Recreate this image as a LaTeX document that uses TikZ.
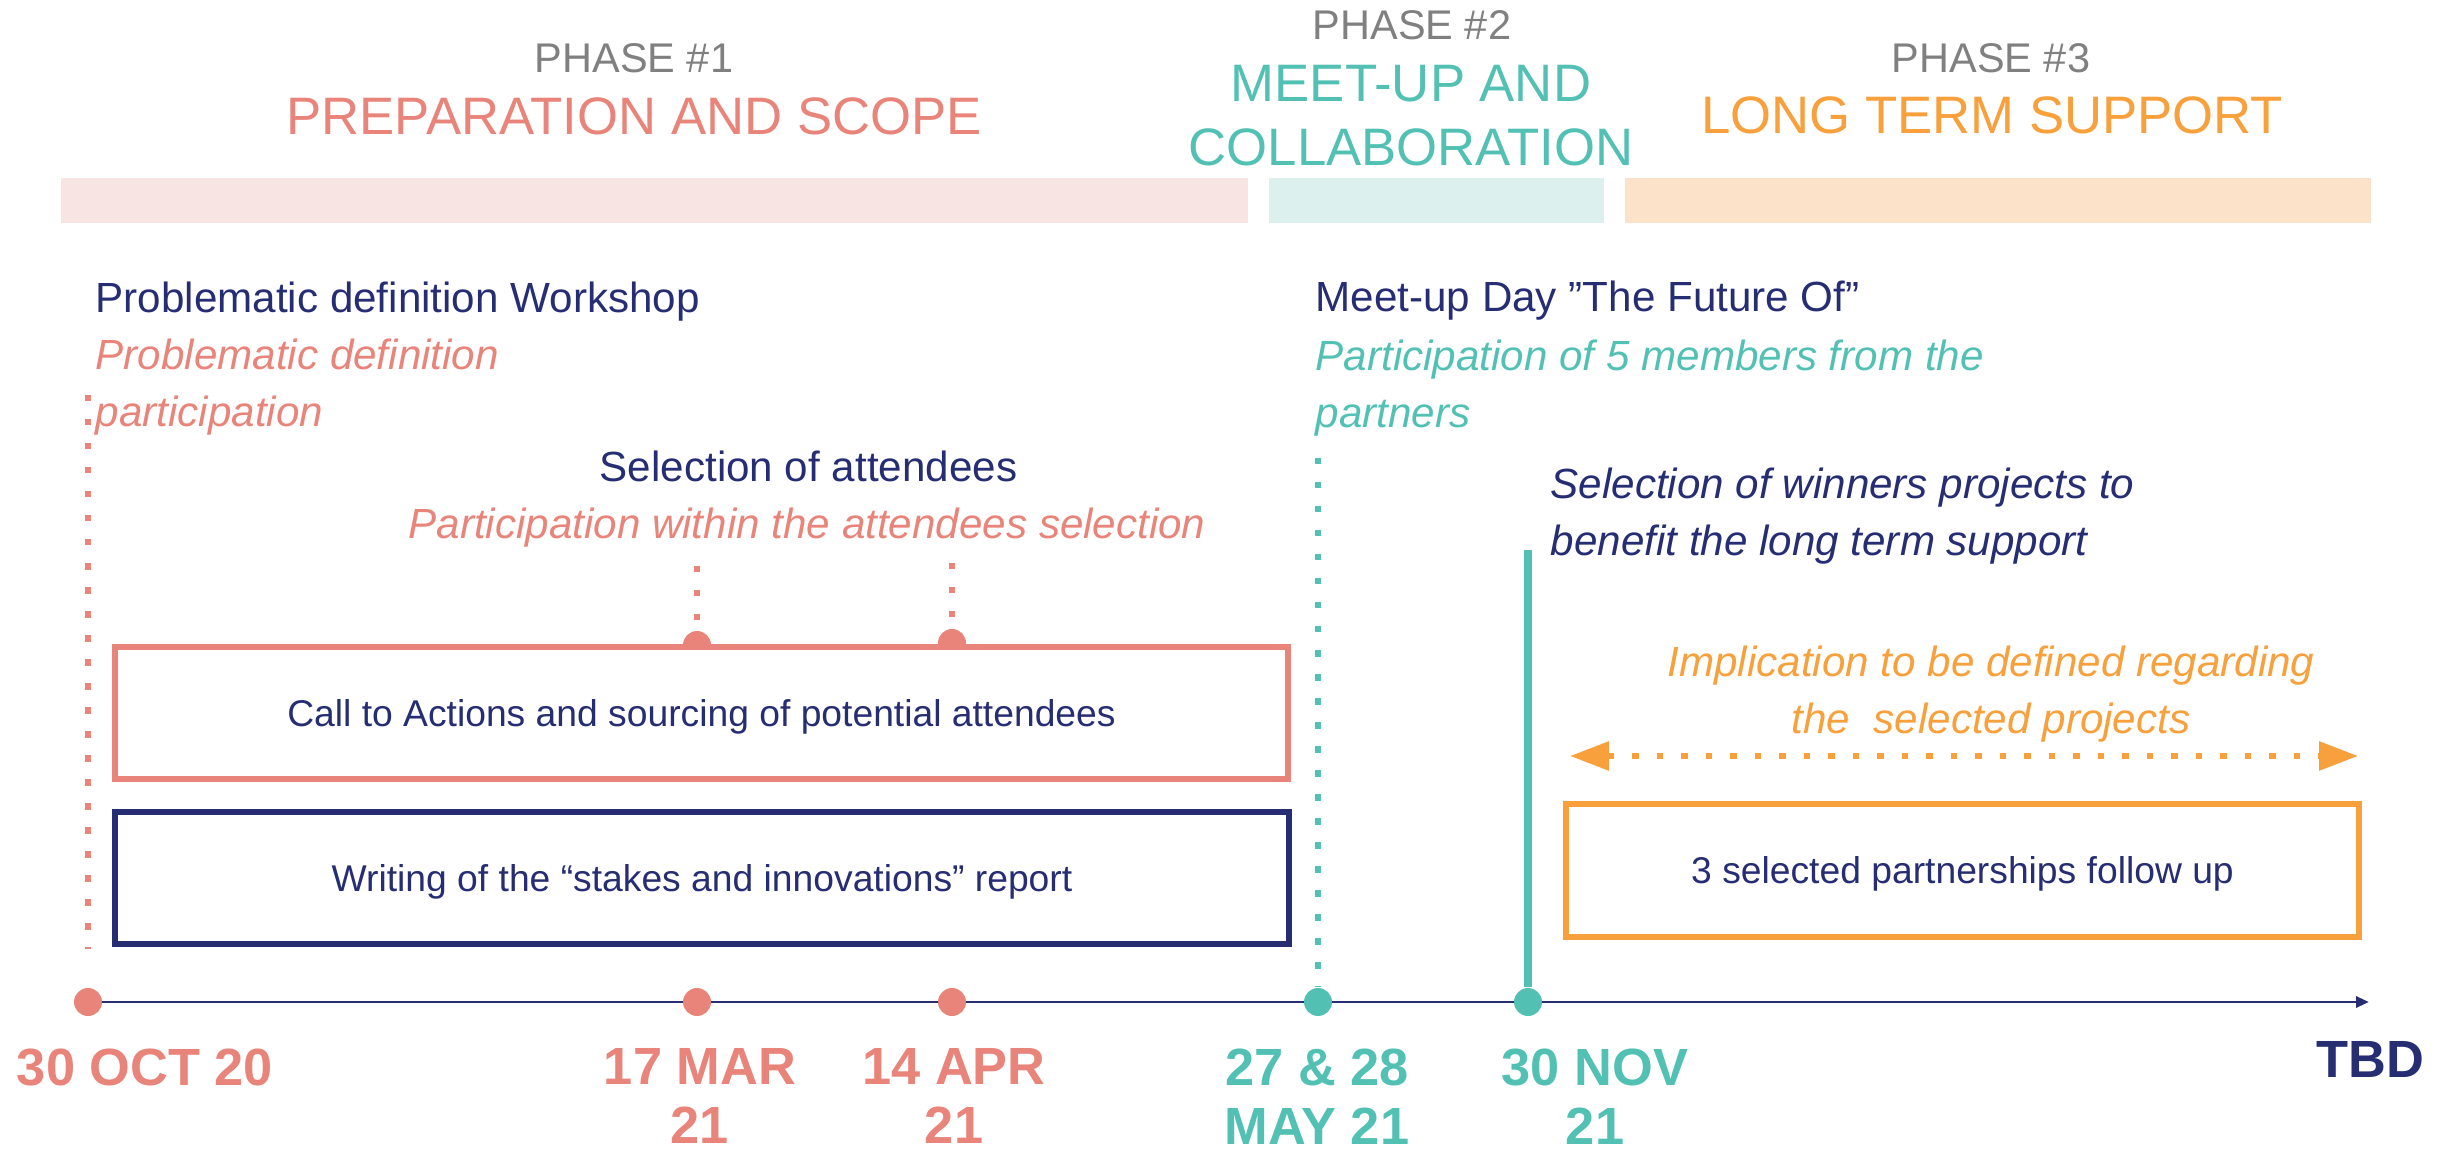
\documentclass[tikz,border=0pt]{standalone}
\usepackage{fontspec}
\setmainfont{Liberation Sans}
\usepackage{tikz}
\usetikzlibrary{arrows.meta, positioning, calc}

\definecolor{prepcolor}{HTML}{E8847A}
\definecolor{meetcolor}{HTML}{52C1B4}
\definecolor{supportcolor}{HTML}{F7A03C}
\definecolor{inkcolor}{HTML}{262D73}
\definecolor{phasegray}{HTML}{808080}
\definecolor{prepband}{HTML}{F8E4E3}
\definecolor{meetband}{HTML}{DCF1EE}
\definecolor{supportband}{HTML}{FCE2C8}

\tikzset{
    phase/.style={ % Small grey phase number
    font=\fontsize{11.8}{14}\selectfont,
    text=phasegray, inner sep=0pt, anchor=base},
    phasetitle/.style={ % Coloured phase name
    font=\fontsize{15}{18.2}\selectfont,
    inner sep=0pt, align=center},
    headline/.style={ % Event title
    font=\fontsize{12}{16.4}\selectfont,
    text=inkcolor, inner sep=0pt},
    remark/.style={ % Involvement of the partners, in italics
    font=\itshape\fontsize{12}{16.4}\selectfont,
    inner sep=0pt, align=left},
    stage/.style={ % Boxed activity
    draw, line width=1.7pt, fill=white,
    font=\fontsize{10.6}{13}\selectfont,
    text=inkcolor, text depth=0pt, inner sep=0pt},
    milestone/.style={ % Dot on the timeline
    circle, inner sep=0pt, minimum size=0.28cm},
    guide/.style={ % Dotted drop line
    line width=1.7pt, dash pattern=on 0.065cm off 0.175cm},
    when/.style={ % Date under the timeline
    font=\bfseries\fontsize{14.9}{16.8}\selectfont,
    inner sep=0pt, anchor=north, align=center}
}

\begin{document}
\begin{tikzpicture}
    \useasboundingbox (0,0) rectangle (24.5,11.57);

    % Phase headers
    \node[phase] (phaseone) at (6.34,10.84) {PHASE \#1};
    \node[phasetitle, text=prepcolor, anchor=base] (prep) at (6.34,10.22) {PREPARATION AND SCOPE};
    \node[phase] (phasetwo) at (14.12,11.17) {PHASE \#2};
    \node[phasetitle, text=meetcolor, anchor=north] (meet) at (14.11,10.92) {MEET-UP AND\\COLLABORATION};
    \node[phase] (phasethree) at (19.91,10.84) {PHASE \#3};
    \node[phasetitle, text=supportcolor, anchor=base] (support) at (19.92,10.23) {LONG TERM SUPPORT};

    % Phase bands
    \fill[prepband] (0.61,9.34) rectangle (12.48,9.79);
    \fill[meetband] (12.69,9.34) rectangle (16.04,9.79);
    \fill[supportband] (16.25,9.34) rectangle (23.71,9.79);

    % Events
    \node[headline, anchor=north west] (workshop) at (0.95,8.76) {Problematic definition Workshop};
    \node[remark, text=prepcolor, anchor=north west] (workshopnote) at (0.95,8.19) {Problematic definition\\participation};
    \node[headline, anchor=north west] (meetup) at (13.15,8.77) {Meet-up Day ”The Future Of”};
    \node[remark, text=meetcolor, anchor=north west] (meetupnote) at (13.15,8.18) {Participation of 5 members from the\\partners};
    \node[headline, anchor=base] (selection) at (8.085,6.75) {Selection of attendees};
    \node[remark, text=prepcolor, anchor=base] (selectionnote) at (8.07,6.18) {Participation within the attendees selection};
    \node[remark, text=inkcolor, anchor=north west] (winners) at (15.50,6.90) {Selection of winners projects to\\benefit the long term support};
    \node[remark, text=supportcolor, anchor=north, align=center] (implication) at (19.91,5.12) {Implication to be defined regarding\\the\ \ selected projects};

    % Timeline
    \coordinate (origin) at (0.88,1.55);
    \coordinate (tbd) at (23.69,1.55);
    \draw[inkcolor, line width=0.85pt, -{Triangle[length=0.13cm, width=0.11cm]}] (origin) -- (tbd);
    \node[milestone, fill=prepcolor] (oct) at (0.88,1.55) {};
    \node[milestone, fill=prepcolor] (mar) at (6.97,1.55) {};
    \node[milestone, fill=prepcolor] (apr) at (9.52,1.55) {};
    \node[milestone, fill=meetcolor] (may) at (13.18,1.55) {};
    \node[milestone, fill=meetcolor] (nov) at (15.28,1.55) {};

    % Drop lines
    \coordinate (octtop) at (0.88,7.62);
    \coordinate (octfoot) at (0.88,2.08);
    \draw[guide, prepcolor] (octtop) -- (octfoot);
    \node[milestone, fill=prepcolor] (marcall) at (6.97,5.12) {};
    \node[milestone, fill=prepcolor] (aprcall) at (9.52,5.14) {};
    \coordinate (martop) at (6.97,5.91);
    \coordinate (aprtop) at (9.52,5.94);
    \draw[guide, prepcolor] (martop) -- (marcall);
    \draw[guide, prepcolor] (aprtop) -- (aprcall);
    \coordinate (maytop) at (13.18,6.99);
    \draw[guide, meetcolor] (maytop) -- (may);
    \coordinate (novtop) at (15.28,6.07);
    \draw[meetcolor, line width=2.3pt] (novtop) -- (nov);

    % Activities
    \node[stage, draw=prepcolor, minimum width=11.73cm, minimum height=1.32cm] (calls) at (7.015,4.44) {Call to Actions and sourcing of potential attendees};
    \node[stage, draw=inkcolor, minimum width=11.74cm, minimum height=1.32cm] (report) at (7.02,2.79) {Writing of the “stakes and innovations” report};
    \node[stage, draw=supportcolor, minimum width=7.93cm, minimum height=1.33cm] (followup) at (19.625,2.865) {3 selected partnerships follow up};

    % Support span
    \coordinate (spanleft) at (15.70,4.01);
    \coordinate (spanright) at (23.58,4.01);
    \draw[supportcolor, line width=1.7pt, dash pattern=on 0.065cm off 0.18cm,
        {Triangle[length=0.39cm, width=0.28cm]}-{Triangle[length=0.39cm, width=0.28cm]}] (spanleft) -- (spanright);

    % Dates
    \node[when, text=prepcolor] (octdate) at (1.45,1.09) {30 OCT 20};
    \node[when, text=prepcolor] (mardate) at (7.00,1.09) {17 MAR\\21};
    \node[when, text=prepcolor] (aprdate) at (9.54,1.09) {14 APR\\21};
    \node[when, text=meetcolor] (maydate) at (13.17,1.09) {27 \& 28\\MAY 21};
    \node[when, text=meetcolor] (novdate) at (15.95,1.09) {30 NOV\\21};
    \node[when, text=inkcolor] (tbddate) at (23.70,1.16) {TBD};
\end{tikzpicture}
\end{document}
